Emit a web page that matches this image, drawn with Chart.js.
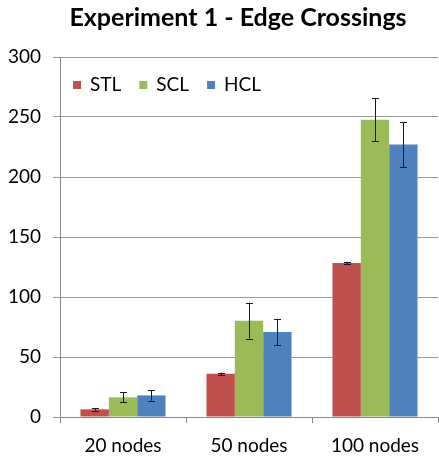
<!DOCTYPE html>
<html>
<head>
<meta charset="utf-8">
<script src="https://cdn.jsdelivr.net/npm/chart.js@4"></script>
<style>
  html, body { margin: 0; padding: 0; background: #ffffff; }
  #wrap { width: 439px; height: 459px; position: relative; }
</style>
</head>
<body>
<div id="wrap"><canvas id="c" width="439" height="459"></canvas></div>
<script>
const categories = ['20 nodes', '50 nodes', '100 nodes'];
const seriesNames = ['STL', 'SCL', 'HCL'];
const stlValues = [6.4, 36, 128.3];
const sclValues = [16.4, 80.3, 247.8];
const hclValues = [18, 70.8, 227];
const stlErrors = [1, 1, 1];
const sclErrors = [4.2, 15, 18];
const hclErrors = [4.4, 11, 18.6];
const yTicks = [0, 50, 100, 150, 200, 250, 300];
const colors = ['#C0504D', '#9BBB59', '#4F81BD'];

const FONT = "Lato, 'Liberation Sans', sans-serif";
const TICK_SIZE = 19;

const errorBarPlugin = {
  id: 'errorBars',
  afterDatasetsDraw(chart) {
    const ctx = chart.ctx;
    const yScale = chart.scales.y;
    ctx.save();
    ctx.strokeStyle = '#1a1a1a';
    ctx.lineWidth = 1;
    chart.data.datasets.forEach((ds, di) => {
      const meta = chart.getDatasetMeta(di);
      meta.data.forEach((bar, i) => {
        const v = ds.data[i];
        const e = ds.errors[i];
        const x = Math.round(bar.x) + 0.5;
        const yTop = yScale.getPixelForValue(v + e);
        const yBot = yScale.getPixelForValue(v - e);
        const cap = 3.5;
        ctx.beginPath();
        ctx.moveTo(x, yTop); ctx.lineTo(x, yBot);
        ctx.moveTo(x - cap, Math.round(yTop) + 0.5); ctx.lineTo(x + cap, Math.round(yTop) + 0.5);
        ctx.moveTo(x - cap, Math.round(yBot) + 0.5); ctx.lineTo(x + cap, Math.round(yBot) + 0.5);
        ctx.stroke();
      });
    });
    ctx.restore();
  }
};

// Legend drawn inside the plot area (top-left), from the datasets' labels and colours
const innerLegendPlugin = {
  id: 'innerLegend',
  afterDraw(chart) {
    const ctx = chart.ctx;
    const area = chart.chartArea;
    ctx.save();
    ctx.font = TICK_SIZE + 'px ' + FONT;
    ctx.textBaseline = 'middle';
    ctx.textAlign = 'left';
    let x = area.left + 13;
    const y = area.top + 28;
    chart.data.datasets.forEach(ds => {
      ctx.fillStyle = ds.backgroundColor;
      ctx.fillRect(x, y - 4, 8, 8);
      ctx.fillStyle = '#000000';
      ctx.fillText(ds.label, x + 17, y);
      x += 17 + ctx.measureText(ds.label).width + 18;
    });
    ctx.restore();
  }
};

// Centre the title slightly left of the plot-area centre, as in the reference
const titleShiftPlugin = {
  id: 'titleShift',
  afterLayout(chart) {
    const tb = chart.titleBlock;
    if (tb) { tb.left = chart.chartArea.left - 22; }
  }
};

new Chart(document.getElementById('c'), {
  type: 'bar',
  data: {
    labels: categories,
    datasets: [
      { label: seriesNames[0], data: stlValues, errors: stlErrors, backgroundColor: colors[0] },
      { label: seriesNames[1], data: sclValues, errors: sclErrors, backgroundColor: colors[1] },
      { label: seriesNames[2], data: hclValues, errors: hclErrors, backgroundColor: colors[2] }
    ]
  },
  options: {
    responsive: false,
    animation: false,
    devicePixelRatio: 1,
    layout: { padding: { left: 0, right: 1, top: 0, bottom: 2 } },
    datasets: { bar: { categoryPercentage: 0.675, barPercentage: 1.0, borderWidth: 0 } },
    plugins: {
      title: {
        display: true,
        text: 'Experiment 1 - Edge Crossings',
        color: '#000000',
        font: { family: FONT, size: 25, weight: 'bold' },
        padding: { top: 3, bottom: 24 },
        fullSize: false
      },
      legend: { display: false },
      tooltip: { enabled: false }
    },
    scales: {
      x: {
        afterFit(scale) { scale.height = 40; },
        grid: { display: true, drawOnChartArea: false, color: '#888888', tickLength: 6, offset: true },
        border: { color: '#888888' },
        ticks: { color: '#000000', font: { family: FONT, size: TICK_SIZE }, padding: 11 }
      },
      y: {
        min: 0, max: 300,
        afterFit(scale) { scale.width = 60; },
        afterBuildTicks(scale) { scale.ticks = yTicks.map(v => ({ value: v })); },
        grid: { color: '#999999', tickLength: 7 },
        border: { color: '#888888' },
        ticks: { color: '#000000', font: { family: FONT, size: TICK_SIZE }, padding: 12 }
      }
    }
  },
  plugins: [titleShiftPlugin, errorBarPlugin, innerLegendPlugin]
});
</script>
</body>
</html>
